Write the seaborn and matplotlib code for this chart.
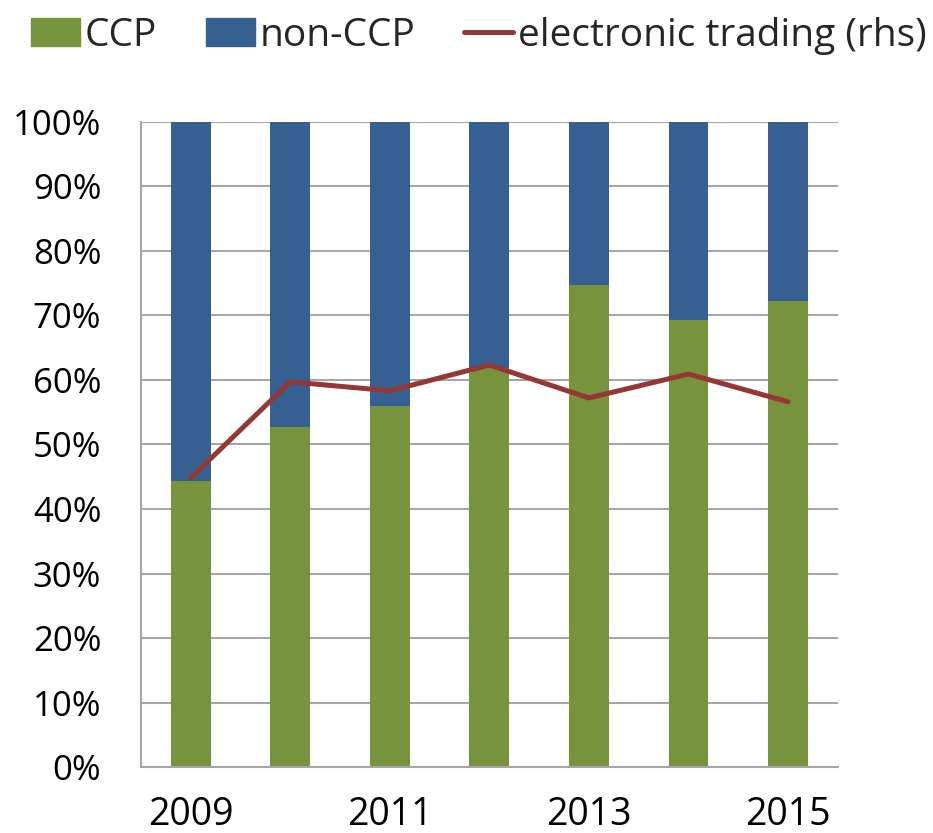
import numpy as np
import pandas as pd
import seaborn as sns
import matplotlib.pyplot as plt
from matplotlib.patches import Patch
from matplotlib.lines import Line2D

# values (percent)
years = ["2009", "2010", "2011", "2012", "2013", "2014", "2015"]
ccp = [44.3, 52.7, 56.0, 61.9, 74.7, 69.2, 72.2]
non_ccp = [55.7, 47.3, 44.0, 38.1, 25.3, 30.8, 27.8]
electronic = [44.8, 59.7, 58.3, 62.3, 57.2, 60.9, 56.6]
shown_years = ["2009", "2011", "2013", "2015"]

green = "#77933C"
blue = "#366092"
red = "#953735"
grid_grey = "#A6A6A6"

sns.set_style("white")
plt.rcParams["font.family"] = ["Open Sans", "DejaVu Sans"]

df = pd.DataFrame({"year": years, "ccp": ccp, "non_ccp": non_ccp, "electronic": electronic})

fig = plt.figure(figsize=(9.33, 8.33), dpi=100)
ax = fig.add_axes([0.151, 0.079, 0.747, 0.775])

sns.barplot(data=df, x="year", y="ccp", color=green, width=0.4, saturation=1,
            linewidth=0, ax=ax)
sns.barplot(data=df, x="year", y="non_ccp", color=blue, width=0.4, saturation=1,
            linewidth=0, bottom=df["ccp"].to_numpy(), ax=ax)
sns.lineplot(x=np.arange(len(years)), y=df["electronic"], color=red, lw=3.6, ax=ax)

ax.set_xlim(-0.5, len(years) - 0.5)
ax.set_ylim(0, 100)
ax.set_yticks(np.arange(0, 101, 10), labels=[f"{v}%" for v in range(0, 101, 10)])
ax.yaxis.grid(True, color=grid_grey, lw=1.5)
ax.set_axisbelow(True)

ax.set_xticks([years.index(y) for y in shown_years], labels=shown_years)
ax.set_xticks(np.arange(-0.5, len(years), 1), minor=True)
ax.tick_params(axis="x", which="major", length=0, pad=21, labelsize=27, colors="black")
ax.tick_params(axis="x", which="minor", length=10, width=1.2, color=grid_grey)
ax.tick_params(axis="y", length=9.5, width=1.5, color=grid_grey, pad=19, labelsize=25,
               labelcolor="black")
ax.set_xlabel("")
ax.set_ylabel("")

for s in ["top", "right"]:
    ax.spines[s].set_visible(False)
for s in ["left", "bottom"]:
    ax.spines[s].set_color(grid_grey)
    ax.spines[s].set_linewidth(1.5)

handles = [Patch(color=green), Patch(color=blue), Line2D([0], [0], color=red, lw=3.6)]
fig.legend(handles, ["CCP", "non-CCP", "electronic trading (rhs)"], loc="center left",
           bbox_to_anchor=(0.033, 0.957), ncol=3, frameon=False, fontsize=28,
           borderaxespad=0, borderpad=0,
           handlelength=1.26, handleheight=0.72, handletextpad=0.13, columnspacing=1.25)

fig.savefig("out.png", dpi=100)
